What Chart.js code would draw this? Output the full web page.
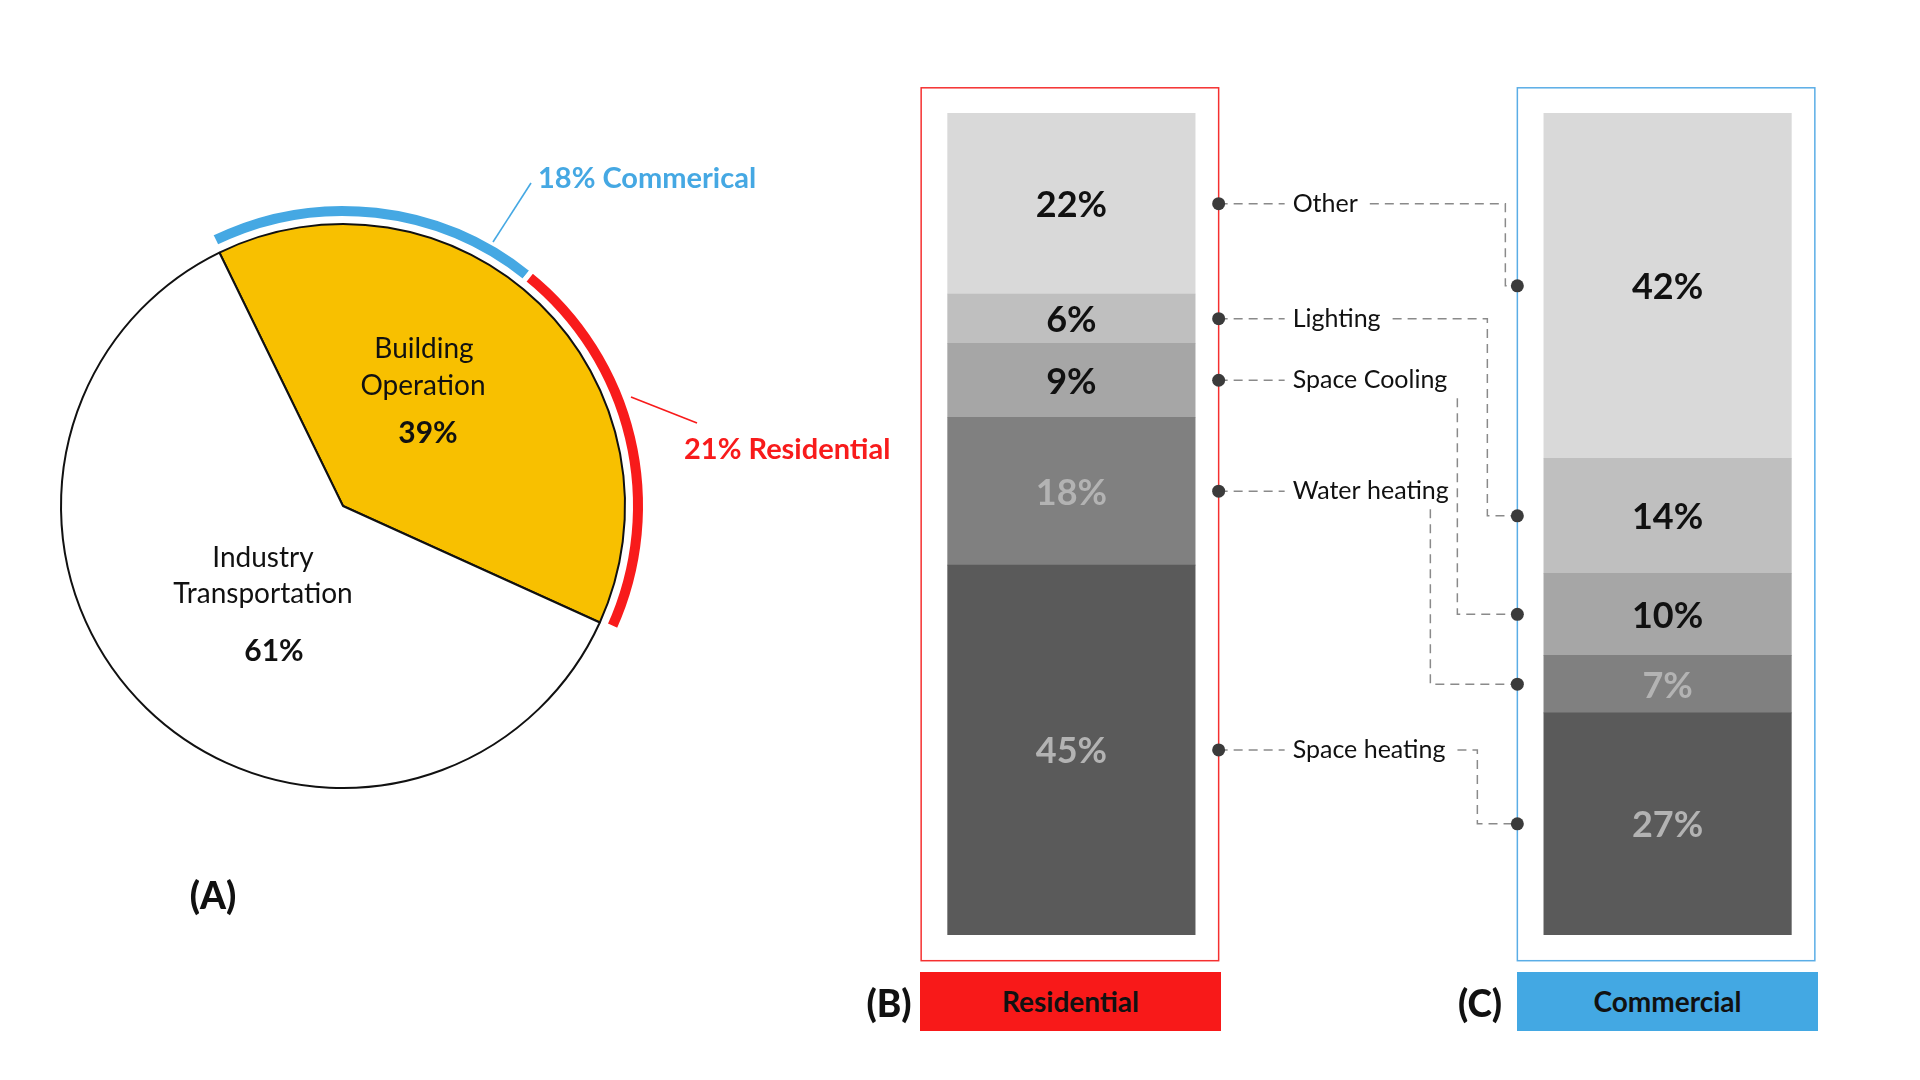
<!DOCTYPE html>
<html>
<head>
<meta charset="utf-8">
<script src="https://cdn.jsdelivr.net/npm/chart.js@4.4.1/dist/chart.umd.min.js"></script>
<style>
  html, body { margin: 0; padding: 0; background: #fff; }
  body { width: 1920px; height: 1080px; position: relative; overflow: hidden; font-family: Lato, 'Noto Sans', sans-serif; color: #111; }
  #bar-wrap { position: absolute; left: 700px; top: 0; width: 1220px; height: 1080px; }
  #pie-wrap { position: absolute; left: 23px; top: 185.5px; width: 640px; height: 640px; }
  #lines { position: absolute; left: 0; top: 0; }
  .t { position: absolute; white-space: nowrap; transform: translate(-50%, -50%); line-height: 1; }
  .l { position: absolute; white-space: nowrap; transform: translateY(-50%); line-height: 1; }
  .pie-lbl { font-size: 28px; }
  .pie-pct { font-size: 30px; font-weight: bold; }
  .panel { font-size: 37px; font-weight: 900; }
  .tag { position: absolute; top: 971.5px; width: 301px; height: 59px; display: flex; align-items: center; justify-content: center; font-size: 28px; font-weight: bold; color: #111; }
</style>
</head>
<body>
<div id="bar-wrap"><canvas id="bars"></canvas></div>
<div id="pie-wrap"><canvas id="pie"></canvas></div>

<svg id="lines" width="1920" height="1080">
  <line x1="493" y1="242" x2="531" y2="183" stroke="#45a8e3" stroke-width="1.6"/>
  <line x1="631" y1="397" x2="697" y2="423" stroke="#f81b1b" stroke-width="1.6"/>
</svg>

<div class="t pie-lbl" style="left:424px; top:347px;">Building</div>
<div class="t pie-lbl" style="left:423px; top:384px;">Operation</div>
<div class="t pie-pct" style="left:428px; top:431px;">39%</div>
<div class="t pie-lbl" style="left:263px; top:556px;">Industry</div>
<div class="t pie-lbl" style="left:263px; top:592px;">Transportation</div>
<div class="t pie-pct" style="left:274px; top:649px;">61%</div>
<div class="t panel" style="left:213px; top:894px;">(A)</div>

<div class="l" style="left:538px; top:176px; font-size:29px; font-weight:bold; color:#45a8e3;">18% Commerical</div>
<div class="l" style="left:684px; top:447px; font-size:29px; font-weight:bold; color:#f81b1b;">21% Residential</div>

<div class="t panel" style="left:889px; top:1002px;">(B)</div>
<div class="tag" style="left:920px; background:#f81919;">Residential</div>
<div class="t panel" style="left:1480px; top:1002px;">(C)</div>
<div class="tag" style="left:1517px; background:#43a8e3;">Commercial</div>

<script>
// ---- data ----
const pieLabels = ['Building Operation', 'Industry Transportation'];
const pieShare = [39, 61];
const buildingSplitLabels = ['Commerical', 'Residential'];
const buildingSplit = [18, 21];

const sectors = ['Residential', 'Commercial'];
const endUses = ['Other', 'Lighting', 'Space Cooling', 'Water heating', 'Space heating'];
const residentialShare = [22, 6, 9, 18, 45];
const commercialShare = [42, 14, 10, 7, 27];

// ---- styles ----
const shades = ['#d9d9d9', '#bfbfbf', '#a6a6a6', '#808080', '#5a5a5a'];
const labelInk = ['#111', '#111', '#111', '#b3b3b3', '#b3b3b3'];
// how far left of the commercial box each connector turns down
const elbowGap = { 'Other': 12, 'Lighting': 30, 'Space Cooling': 60, 'Water heating': 87, 'Space heating': 40 };

Chart.defaults.font.family = "Lato, 'Noto Sans', sans-serif";

// ----- (A) pie with the building split ring -----
new Chart(document.getElementById('pie'), {
    type: 'doughnut',
    data: {
        labels: pieLabels,
        datasets: [
            {
                label: 'Building split',
                data: [...buildingSplit, pieShare[1]],
                backgroundColor: ['#45a8e3', '#f81b1b', 'rgba(0,0,0,0)'],
                borderColor: '#ffffff',
                borderWidth: [5, 5, 0],
                weight: 15
            },
            {
                label: 'spacer',
                data: [1],
                backgroundColor: 'rgba(0,0,0,0)',
                borderWidth: 0,
                weight: 5.5
            },
            {
                label: 'Share',
                data: pieShare,
                backgroundColor: ['#f8c000', '#ffffff'],
                borderColor: '#111111',
                borderWidth: 2,
                weight: 282
            }
        ]
    },
    options: {
        responsive: true,
        maintainAspectRatio: false,
        animation: false,
        events: [],
        cutout: 0,
        radius: 302.5,
        rotation: -26,
        plugins: { legend: { display: false }, tooltip: { enabled: false } }
    }
});

// ----- (B) / (C) stacked bars with connectors -----
const barAnnotations = {
    id: 'barAnnotations',
    afterDatasetsDraw(chart) {
        const ctx = chart.ctx;
        const area = chart.chartArea;
        const elems = endUses.map(name => {
            const idx = chart.data.datasets.findIndex(d => d.label === name);
            return chart.getDatasetMeta(idx).data;
        });
        const res = elems[0][0], com = elems[0][1];
        const boxOf = el => ({
            l: el.x - el.width / 2 - 26.5,
            r: el.x + el.width / 2 + 23.5,
            t: area.top - 25.5,
            b: area.bottom + 26
        });
        const resBox = boxOf(res), comBox = boxOf(com);

        ctx.save();
        ctx.lineWidth = 1.5;
        ctx.strokeStyle = '#f53030';
        ctx.strokeRect(resBox.l, resBox.t, resBox.r - resBox.l, resBox.b - resBox.t);
        ctx.strokeStyle = '#5aade6';
        ctx.strokeRect(comBox.l, comBox.t, comBox.r - comBox.l, comBox.b - comBox.t);

        // value labels
        ctx.font = "bold 36px Lato, 'Noto Sans', sans-serif";
        ctx.textAlign = 'center';
        ctx.textBaseline = 'middle';
        endUses.forEach((name, i) => {
            ctx.fillStyle = labelInk[i];
            [residentialShare, commercialShare].forEach((vals, s) => {
                const el = elems[i][s];
                ctx.fillText(vals[i] + '%', el.x, (el.y + el.base) / 2 + 2);
            });
        });

        // connectors
        const xL = resBox.r, xR = comBox.l;
        const textX = xL + 74;
        ctx.font = "25px Lato, 'Noto Sans', sans-serif";
        ctx.textAlign = 'left';
        const dots = [];
        endUses.forEach((name, i) => {
            const a = elems[i][0], b = elems[i][1];
            const yL = (a.y + a.base) / 2;
            const yR = (b.y + b.base) / 2;
            const textEnd = textX + ctx.measureText(name).width;
            const e = xR - elbowGap[name];

            ctx.strokeStyle = '#8a8a8a';
            ctx.lineWidth = 1.5;
            ctx.setLineDash([9, 6]);
            ctx.beginPath();
            ctx.moveTo(xL, yL);
            ctx.lineTo(textX - 8, yL);
            if (Math.abs(yL - yR) < 3) {
                ctx.moveTo(textEnd + 5, yL);
                ctx.lineTo(xR, yL);
            } else if (e > textEnd + 12) {
                ctx.moveTo(textEnd + 12, yL);
                ctx.lineTo(e, yL);
                ctx.lineTo(e, yR);
                ctx.lineTo(xR, yR);
            } else {
                ctx.moveTo(e, yL + (yR > yL ? 18 : -18));
                ctx.lineTo(e, yR);
                ctx.lineTo(xR, yR);
            }
            ctx.stroke();
            ctx.setLineDash([]);

            ctx.fillStyle = '#111';
            ctx.fillText(name, textX, yL);
            dots.push([xL, yL], [xR, yR]);
        });
        ctx.fillStyle = '#3b3b3b';
        dots.forEach(([x, y]) => {
            ctx.beginPath();
            ctx.arc(x, y, 6.5, 0, Math.PI * 2);
            ctx.fill();
        });
        ctx.restore();
    }
};

const barSets = endUses.map((name, i) => ({
    label: name,
    data: [residentialShare[i], commercialShare[i]],
    backgroundColor: shades[i],
    borderWidth: 0,
    barThickness: 247.5,
    clip: false
})).reverse();

new Chart(document.getElementById('bars'), {
    type: 'bar',
    data: { labels: sectors, datasets: barSets },
    options: {
        responsive: true,
        maintainAspectRatio: false,
        animation: false,
        events: [],
        layout: { padding: { left: 371.4, right: 252.4, top: 113.3, bottom: 145.3 } },
        scales: {
            x: { type: 'category', offset: false, stacked: true, display: false },
            y: { stacked: true, min: 0, max: 100, display: false }
        },
        plugins: { legend: { display: false }, tooltip: { enabled: false } }
    },
    plugins: [barAnnotations]
});
</script>
</body>
</html>
